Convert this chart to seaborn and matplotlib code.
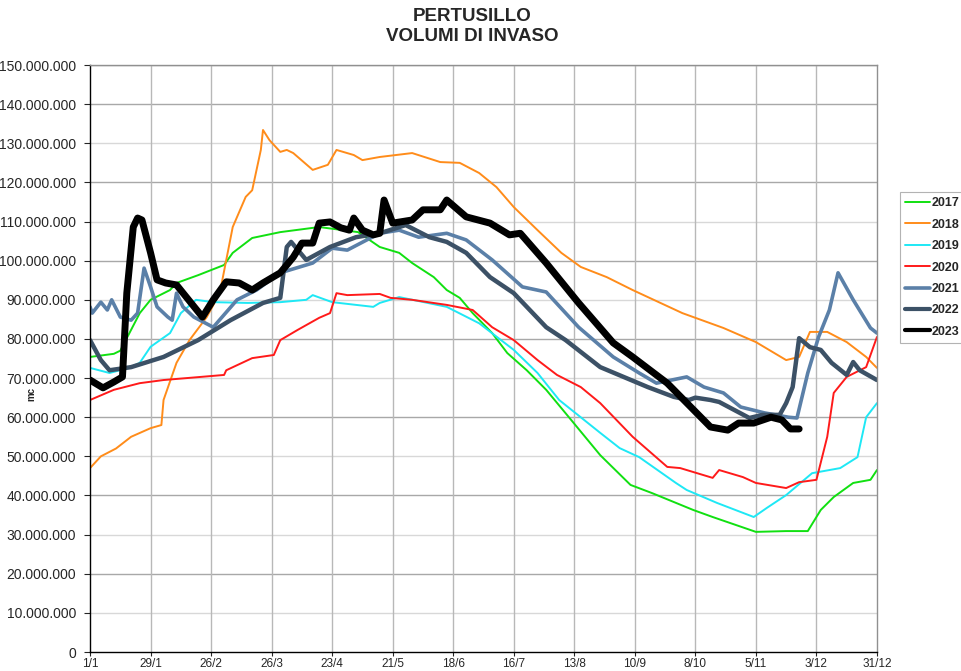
import numpy as np
import pandas as pd
import matplotlib
matplotlib.use("Agg")
import matplotlib.pyplot as plt
from matplotlib.ticker import FuncFormatter, MultipleLocator
import seaborn as sns

# day of year (0 = 1 Jan) and volume in millions of m3
days_2017 = [0, 11, 14, 23, 28, 37, 40, 50, 62, 66, 75, 88, 106, 124, 134, 143, 149, 159, 165,
             171, 177, 186, 193, 202, 211, 223, 236, 250, 260, 279, 288, 308, 322, 332, 338, 344,
             353, 361, 364]
vol_2017 = [75.4, 76.2, 77, 86.6, 90, 92.5, 94.3, 96.3, 98.9, 102, 105.8, 107.3, 108.6, 107.3, 103.5,
            102, 99.4, 95.8, 92.5, 90.5, 86.6, 81.5, 76.4, 72, 67, 59, 50.3, 42.7, 40.6, 36.3, 34.5,
            30.7, 30.9, 30.9, 36.3, 39.6, 43.2, 44, 46.5]

days_2018 = [0, 5, 12, 19, 28, 33, 34, 40, 46, 54, 60, 66, 72, 75, 79, 80, 83, 88, 91, 94, 103,
             110, 114, 122, 126, 134, 149, 162, 171, 180, 188, 196, 207, 218, 227, 239, 251, 274,
             293, 308, 322, 328, 333, 341, 350, 359, 364]
vol_2018 = [47, 50, 52, 55, 57.2, 58, 64.4, 73.9, 79.7, 85.6, 91.7, 108.6, 116.3, 118, 128.3, 133.4,
            130.8, 127.8, 128.3, 127.5, 123.2, 124.5, 128.3, 127, 125.7, 126.5, 127.5, 125.2, 125,
            122.4, 118.8, 113.7, 107.8, 102, 98.4, 95.8, 92.5, 86.6, 82.8, 79.2, 74.6, 75.4, 81.8,
            81.8, 79.2, 75.4, 72.6]

days_2019 = [0, 9, 18, 23, 28, 37, 42, 49, 57, 73, 88, 100, 103, 112, 131, 134, 143, 165, 180,
             196, 207, 217, 236, 245, 254, 271, 276, 290, 307, 313, 322, 334, 347, 355, 359, 364]
vol_2019 = [72.6, 71.3, 72.6, 73.9, 78, 81.5, 86.6, 90, 89.4, 89.2, 89.4, 90, 91.2, 89.4, 88.2, 89.2,
            90.7, 88.2, 84, 77.2, 71.3, 64.4, 56, 52.1, 49.8, 43.2, 41.4, 38.1, 34.5, 36.8, 40.1,
            45.7, 47, 49.8, 60, 63.6]

days_2020 = [0, 11, 23, 34, 62, 63, 75, 85, 88, 96, 106, 111, 114, 119, 134, 139, 149, 165, 177,
             186, 196, 207, 216, 227, 236, 251, 267, 273, 288, 291, 302, 308, 322, 328, 336, 341,
             344, 350, 359, 364]
vol_2020 = [64.4, 67, 68.7, 69.5, 70.8, 72, 75.1, 75.9, 79.7, 82.3, 85.4, 86.6, 91.7, 91.2, 91.5,
            90.5, 90, 88.7, 87.4, 83, 79.7, 74.6, 70.8, 67.7, 63.6, 55, 47.3, 47, 44.5, 46.5, 44.7,
            43.2, 41.9, 43.4, 44, 55, 66.2, 70.3, 72.8, 80.5]

days_2021 = [0, 1, 5, 8, 10, 14, 19, 22, 25, 28, 31, 36, 38, 40, 43, 48, 57, 68, 77, 88, 103, 112,
             119, 128, 134, 143, 152, 165, 174, 186, 200, 211, 226, 242, 254, 262, 276, 284, 293,
             301, 312, 323, 327, 332, 337, 342, 346, 353, 361, 364]
vol_2021 = [88.2, 86.6, 89.4, 87.4, 90, 85.6, 84.8, 86.6, 98.1, 93.3, 88.2, 85.6, 84.8, 91.7, 88.2,
            85.6, 83, 90, 92.5, 96.9, 99.4, 103.2, 102.7, 105.3, 107, 107.8, 106, 107, 105.3, 100.2,
            93.3, 92, 83, 75.4, 71.3, 68.7, 70.3, 67.7, 66.2, 62.6, 61.1, 60, 59.8, 71.3, 80.5,
            87.4, 96.9, 90, 82.8, 81.5]

days_2022 = [0, 5, 9, 19, 34, 50, 65, 80, 88, 91, 93, 100, 111, 123, 134, 146, 157, 165, 174,
             185, 196, 211, 220, 236, 258, 270, 277, 280, 287, 291, 305, 311, 319, 322, 325, 328,
             333, 338, 343, 350, 353, 356, 364]
vol_2022 = [79.7, 74.6, 72, 72.8, 75.4, 79.7, 84.8, 89.2, 90.5, 103.5, 104.8, 100.2, 103.5, 106,
            107, 109.1, 106, 104.8, 102, 95.8, 91.7, 83, 79.7, 72.8, 67.7, 65.2, 64.4, 65, 64.4, 63.9,
            59.8, 60.6, 60.6, 63.6, 67.7, 80.2, 77.9, 77.2, 73.9, 70.8, 74.1, 72, 69.5]

days_2023 = [0, 6, 11, 15, 17, 20, 22, 24, 28, 31, 35, 40, 52, 57, 63, 69, 75, 80, 88, 94, 98,
             103, 106, 111, 116, 120, 122, 126, 131, 134, 136, 140, 149, 154, 162, 165, 174, 185,
             194, 199, 211, 226, 242, 251, 267, 287, 295, 300, 307, 315, 320, 324, 328]
vol_2023 = [69.5, 67.5, 69, 70.3, 91.7, 108.6, 110.9, 110.4, 102, 95.1, 94.3, 93.8, 85.6, 90, 94.6,
            94.3, 92.5, 94.3, 96.9, 100.9, 104.5, 104.5, 109.6, 109.9, 108.4, 107.8, 110.9, 107.8,
            106.6, 107, 115.5, 109.6, 110.4, 113, 113, 115.5, 111.2, 109.6, 106.6, 107, 99.4, 89.2,
            79, 75.4, 68.7, 57.5, 56.7, 58.5, 58.5, 60, 59.3, 57, 57]

years = ["2017", "2018", "2019", "2020", "2021", "2022", "2023"]
tick_days = [0, 28, 56, 84, 112, 140, 168, 196, 224, 252, 280, 308, 336, 364]
tick_labels = ["1/1", "29/1", "26/2", "26/3", "23/4", "21/5", "18/6", "16/7", "13/8",
               "10/9", "8/10", "5/11", "3/12", "31/12"]

series = {
    "2017": (days_2017, vol_2017), "2018": (days_2018, vol_2018),
    "2019": (days_2019, vol_2019), "2020": (days_2020, vol_2020),
    "2021": (days_2021, vol_2021), "2022": (days_2022, vol_2022),
    "2023": (days_2023, vol_2023),
}
colors = {"2017": "#11e011", "2018": "#ff8c1a", "2019": "#1ee8f5", "2020": "#ff1a1a",
          "2021": "#5b80a8", "2022": "#3c5166", "2023": "#000000"}
widths = {"2017": 1.4, "2018": 1.4, "2019": 1.4, "2020": 1.4,
          "2021": 2.6, "2022": 3.2, "2023": 5.0}

sns.set_style("white")
plt.rcParams["font.family"] = ["Liberation Sans", "DejaVu Sans"]

fig = plt.figure(figsize=(9.62, 6.71), dpi=100)
ax = fig.add_axes([0.0936, 0.0283, 0.8180, 0.8748])

for y in years:
    d, v = series[y]
    df = pd.DataFrame({"day": d, "vol": np.array(v) * 1e6})
    sns.lineplot(data=df, x="day", y="vol", ax=ax, color=colors[y], linewidth=widths[y],
                 label=y, sort=False, estimator=None)

ax.set_xlim(0, 364)
ax.set_ylim(0, 150e6)
ax.set_xticks(tick_days)
ax.set_xticklabels(tick_labels, fontsize=8.5)
ax.yaxis.set_major_locator(MultipleLocator(10e6))
ax.yaxis.set_major_formatter(FuncFormatter(lambda v, p: f"{v:,.0f}".replace(",", ".")))
ax.tick_params(axis="y", labelsize=10, length=4, direction="out", left=True, pad=6)
ax.tick_params(axis="x", length=3, direction="out", bottom=True, pad=1)

# grid: darker every 20 M, lighter at the odd 10 M
for v in range(10, 150, 10):
    ax.axhline(v * 1e6, color="#a8a8a8" if v % 20 == 0 else "#d8d8d8", lw=1.0, zorder=0)
ax.axhline(150e6, color="#a8a8a8", lw=1.0, zorder=0)
for d in tick_days[1:-1]:
    ax.axvline(d, color="#b8b8b8", lw=1.0, zorder=0)

for s in ["left", "bottom"]:
    ax.spines[s].set_color("black")
    ax.spines[s].set_linewidth(1.0)
for s in ["top", "right"]:
    ax.spines[s].set_color("#909090")
    ax.spines[s].set_linewidth(1.0)

ax.set_xlabel("")
ax.set_ylabel("mc", fontsize=7, fontweight="bold")
ax.yaxis.set_label_coords(-0.068, 0.44)

fig.text(0.491, 0.988, "PERTUSILLO\nVOLUMI DI INVASO", ha="center", va="top",
         fontsize=13.5, fontweight="bold", linespacing=1.2)

leg = ax.legend(loc="upper left", bbox_to_anchor=(1.029, 0.784), frameon=True, fancybox=False,
                prop={"size": 9, "weight": "bold"}, handlelength=2.0, handletextpad=0.1,
                labelspacing=0.75, borderpad=0.45, borderaxespad=0)
leg.get_frame().set_edgecolor("#a0a0a0")
leg.get_frame().set_linewidth(0.8)
for line in leg.get_lines():
    line.set_linewidth(min(line.get_linewidth(), 3.0))

fig.savefig("out.png", dpi=100)
